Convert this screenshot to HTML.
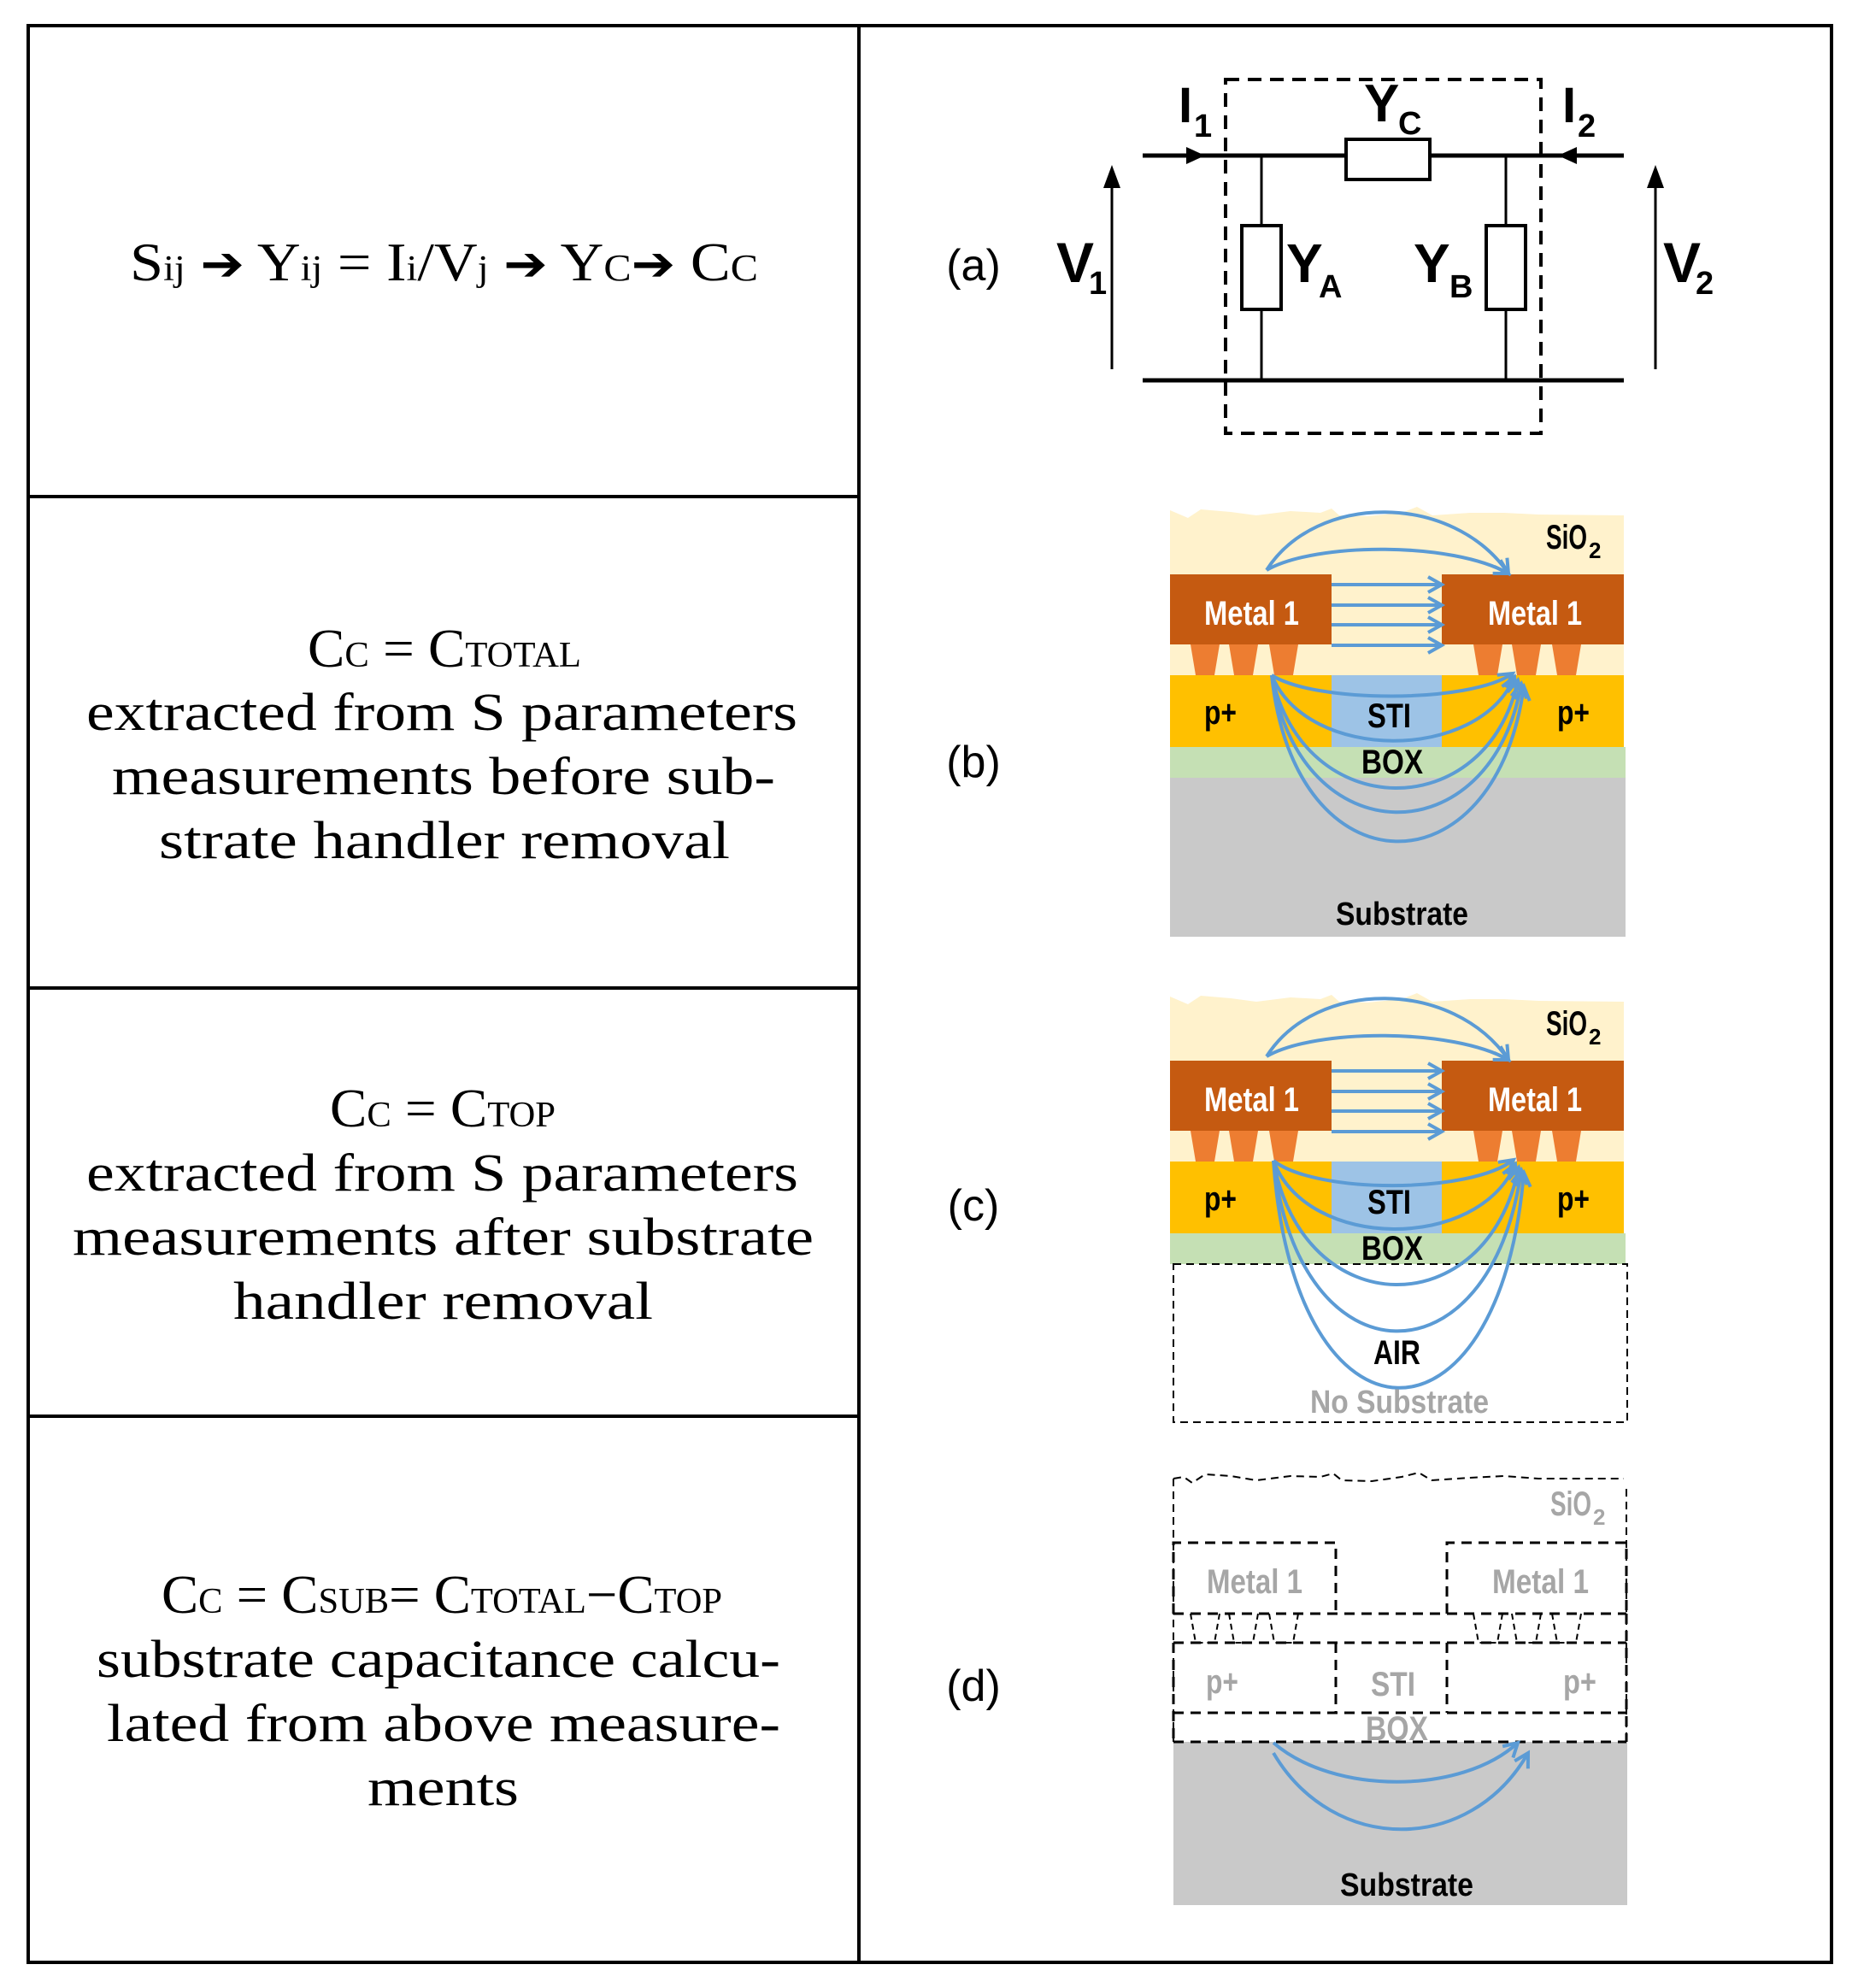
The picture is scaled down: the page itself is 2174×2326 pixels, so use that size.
<!DOCTYPE html>
<html><head><meta charset="utf-8"><style>
html,body{margin:0;padding:0;background:#fff;}
svg{display:block;}
.sf{font-family:"Liberation Serif",serif;fill:#000;}
.ss{font-family:"Liberation Sans",sans-serif;font-weight:bold;}
</style></head><body>
<svg width="2174" height="2326" viewBox="0 0 2174 2326" xmlns="http://www.w3.org/2000/svg">
<defs>
<marker id="bh" markerUnits="userSpaceOnUse" markerWidth="40" markerHeight="40" refX="0" refY="0" viewBox="-20 -20 40 40" orient="auto" overflow="visible">
<path d="M-16,-9 L0,0 L-16,9" fill="none" stroke="#5B9BD5" stroke-width="4"/>
</marker>
</defs>
<rect width="2174" height="2326" fill="#fff"/>
<!-- table -->
<rect x="33" y="30" width="2110" height="2266" fill="none" stroke="#000" stroke-width="4"/>
<line x1="1005" y1="30" x2="1005" y2="2296" stroke="#000" stroke-width="4"/>
<line x1="33" y1="581" x2="1005" y2="581" stroke="#000" stroke-width="4"/>
<line x1="33" y1="1156" x2="1005" y2="1156" stroke="#000" stroke-width="4"/>
<line x1="33" y1="1657" x2="1005" y2="1657" stroke="#000" stroke-width="4"/>

<!-- left texts -->
<text class="sf" x="152" y="328" font-size="64" textLength="735" lengthAdjust="spacingAndGlyphs">S<tspan font-size="42">ij</tspan> <tspan font-family="DejaVu Sans,sans-serif" font-weight="bold" font-size="56">➔</tspan> Y<tspan font-size="42">ij</tspan> = I<tspan font-size="42">i</tspan>/V<tspan font-size="42">j</tspan> <tspan font-family="DejaVu Sans,sans-serif" font-weight="bold" font-size="56">➔</tspan> Y<tspan font-size="44">C</tspan><tspan font-family="DejaVu Sans,sans-serif" font-weight="bold" font-size="56">➔</tspan> C<tspan font-size="44">C</tspan></text>

<text class="sf" x="360" y="780" font-size="64" textLength="320" lengthAdjust="spacingAndGlyphs">C<tspan font-size="42">C</tspan> = C<tspan font-size="42">TOTAL</tspan></text>
<text class="sf" x="101" y="854" font-size="62" textLength="832" lengthAdjust="spacingAndGlyphs">extracted from S parameters</text>
<text class="sf" x="131" y="929" font-size="62" textLength="776" lengthAdjust="spacingAndGlyphs">measurements before sub-</text>
<text class="sf" x="186" y="1004" font-size="62" textLength="668" lengthAdjust="spacingAndGlyphs">strate handler removal</text>

<text class="sf" x="386" y="1318" font-size="64" textLength="264" lengthAdjust="spacingAndGlyphs">C<tspan font-size="42">C</tspan> = C<tspan font-size="42">TOP</tspan></text>
<text class="sf" x="101" y="1393" font-size="62" textLength="833" lengthAdjust="spacingAndGlyphs">extracted from S parameters</text>
<text class="sf" x="85" y="1468" font-size="62" textLength="867" lengthAdjust="spacingAndGlyphs">measurements after substrate</text>
<text class="sf" x="273" y="1543" font-size="62" textLength="491" lengthAdjust="spacingAndGlyphs">handler removal</text>

<text class="sf" x="189" y="1887" font-size="64" textLength="656" lengthAdjust="spacingAndGlyphs">C<tspan font-size="42">C</tspan> = C<tspan font-size="42">SUB</tspan>= C<tspan font-size="42">TOTAL</tspan>−C<tspan font-size="42">TOP</tspan></text>
<text class="sf" x="113" y="1962" font-size="62" textLength="800" lengthAdjust="spacingAndGlyphs">substrate capacitance calcu-</text>
<text class="sf" x="125" y="2037" font-size="62" textLength="788" lengthAdjust="spacingAndGlyphs">lated from above measure-</text>
<text class="sf" x="430" y="2112" font-size="62" textLength="177" lengthAdjust="spacingAndGlyphs">ments</text>

<!-- panel labels -->
<g font-family="Liberation Sans,sans-serif" font-size="52" text-anchor="middle">
<text x="1139" y="328">(a)</text>
<text x="1139" y="909">(b)</text>
<text x="1139" y="1428">(c)</text>
<text x="1139" y="1990">(d)</text>
</g>

<!-- circuit (a) -->
<g stroke="#000" fill="none">
<line x1="1337" y1="182" x2="1575" y2="182" stroke-width="5"/>
<line x1="1673" y1="182" x2="1900" y2="182" stroke-width="5"/>
<line x1="1337" y1="445" x2="1900" y2="445" stroke-width="5"/>
<rect x="1575" y="163" width="98" height="47" stroke-width="4" fill="#fff"/>
<line x1="1476" y1="182" x2="1476" y2="264" stroke-width="3"/>
<line x1="1476" y1="362" x2="1476" y2="445" stroke-width="3"/>
<rect x="1453" y="264" width="46" height="98" stroke-width="4" fill="#fff"/>
<line x1="1762" y1="182" x2="1762" y2="264" stroke-width="3"/>
<line x1="1762" y1="362" x2="1762" y2="445" stroke-width="3"/>
<rect x="1739" y="264" width="46" height="98" stroke-width="4" fill="#fff"/>
<rect x="1434" y="93" width="369" height="414" stroke-width="4" stroke-dasharray="16,10"/>
<line x1="1301" y1="432" x2="1301" y2="215" stroke-width="3"/>
<line x1="1937" y1="432" x2="1937" y2="215" stroke-width="3"/>
</g>
<polygon points="1301,193 1291,220 1311,220" fill="#000"/>
<polygon points="1937,193 1927,220 1947,220" fill="#000"/>
<polygon points="1410,182 1388,172 1388,192" fill="#000"/>
<polygon points="1823,182 1845,172 1845,192" fill="#000"/>
<g class="ss" fill="#000">
<text x="1379" y="143" font-size="58">I</text><text x="1397" y="160" font-size="38">1</text>
<text x="1596" y="142" font-size="62">Y</text><text x="1636" y="157" font-size="38">C</text>
<text x="1828" y="143" font-size="58">I</text><text x="1846" y="160" font-size="38">2</text>
<text x="1236" y="330" font-size="66">V</text><text x="1274" y="344" font-size="38">1</text>
<text x="1505" y="330" font-size="64">Y</text><text x="1543" y="348" font-size="38">A</text>
<text x="1654" y="330" font-size="64">Y</text><text x="1696" y="348" font-size="38">B</text>
<text x="1946" y="330" font-size="66">V</text><text x="1984" y="344" font-size="38">2</text>
</g>

<!-- panel (b) -->
<g id="pb">
<path d="M1369,597 L1390,606 L1405,596 L1440,599 L1470,603 L1510,598 L1545,600 L1558,595 L1567,603 L1600,604 L1640,600 L1658,593 L1676,603 L1720,600 L1760,600 L1800,602 L1900,603 L1900,791 L1369,791 Z" fill="#FFF2CC"/>
<rect x="1369" y="672" width="189" height="82" fill="#C55A11"/>
<rect x="1687" y="672" width="213" height="82" fill="#C55A11"/>
<g fill="#ED7D31">
<polygon points="1393,754 1427,754 1421,790 1399,790"/>
<polygon points="1438,754 1472,754 1466,790 1444,790"/>
<polygon points="1485,754 1519,754 1513,790 1491,790"/>
<polygon points="1724,754 1758,754 1752,790 1730,790"/>
<polygon points="1769,754 1803,754 1797,790 1775,790"/>
<polygon points="1816,754 1850,754 1844,790 1822,790"/>
</g>
<rect x="1369" y="790" width="531" height="84" fill="#FFC000"/>
<rect x="1558" y="790" width="129" height="84" fill="#9DC3E6"/>
<rect x="1369" y="874" width="533" height="36" fill="#C5E0B4"/>
</g>
<rect x="1369" y="910" width="533" height="186" fill="#C9C9C9"/>
<g class="ss">
<text x="1409" y="731" font-size="40" fill="#fff" textLength="111" lengthAdjust="spacingAndGlyphs">Metal 1</text>
<text x="1741" y="731" font-size="40" fill="#fff" textLength="110" lengthAdjust="spacingAndGlyphs">Metal 1</text>
<text x="1809" y="642" font-size="40" textLength="48" lengthAdjust="spacingAndGlyphs">SiO</text><text x="1859" y="653" font-size="26">2</text>
<text x="1409" y="847" font-size="40" textLength="38" lengthAdjust="spacingAndGlyphs">p+</text>
<text x="1822" y="847" font-size="40" textLength="38" lengthAdjust="spacingAndGlyphs">p+</text>
<text x="1600" y="851" font-size="40" textLength="51" lengthAdjust="spacingAndGlyphs">STI</text>
<text x="1593" y="905" font-size="40" textLength="72" lengthAdjust="spacingAndGlyphs">BOX</text>
<text x="1563" y="1082" font-size="38" textLength="155" lengthAdjust="spacingAndGlyphs">Substrate</text>
</g>
<g fill="none" stroke="#5B9BD5" stroke-width="4" marker-end="url(#bh)">
<path d="M1482,667 C1540,576 1700,576 1765,671"/>
<path d="M1482,667 C1540,634 1700,634 1765,671"/>
<line x1="1558" y1="684" x2="1687" y2="684"/>
<line x1="1558" y1="708" x2="1687" y2="708"/>
<line x1="1558" y1="731" x2="1687" y2="731"/>
<line x1="1558" y1="755" x2="1687" y2="755"/>
<path d="M1488,790 C1540,823 1720,823 1770,788"/>
<path d="M1488,790 C1530,892 1730,892 1772,792"/>
<path d="M1488,790 C1525,965 1740,965 1776,796"/>
<path d="M1488,790 C1520,1002 1745,1002 1780,800"/>
<path d="M1488,790 C1515,1047 1750,1047 1783,803"/>
</g>

<!-- panel (c) -->
<g transform="translate(0,569)">
<path d="M1369,597 L1390,606 L1405,596 L1440,599 L1470,603 L1510,598 L1545,600 L1558,595 L1567,603 L1600,604 L1640,600 L1658,593 L1676,603 L1720,600 L1760,600 L1800,602 L1900,603 L1900,791 L1369,791 Z" fill="#FFF2CC"/>
<rect x="1369" y="672" width="189" height="82" fill="#C55A11"/>
<rect x="1687" y="672" width="213" height="82" fill="#C55A11"/>
<g fill="#ED7D31">
<polygon points="1393,754 1427,754 1421,790 1399,790"/>
<polygon points="1438,754 1472,754 1466,790 1444,790"/>
<polygon points="1485,754 1519,754 1513,790 1491,790"/>
<polygon points="1724,754 1758,754 1752,790 1730,790"/>
<polygon points="1769,754 1803,754 1797,790 1775,790"/>
<polygon points="1816,754 1850,754 1844,790 1822,790"/>
</g>
<rect x="1369" y="790" width="531" height="84" fill="#FFC000"/>
<rect x="1558" y="790" width="129" height="84" fill="#9DC3E6"/>
<rect x="1369" y="874" width="533" height="36" fill="#C5E0B4"/>
<g class="ss">
<text x="1409" y="731" font-size="40" fill="#fff" textLength="111" lengthAdjust="spacingAndGlyphs">Metal 1</text>
<text x="1741" y="731" font-size="40" fill="#fff" textLength="110" lengthAdjust="spacingAndGlyphs">Metal 1</text>
<text x="1809" y="642" font-size="40" textLength="48" lengthAdjust="spacingAndGlyphs">SiO</text><text x="1859" y="653" font-size="26">2</text>
<text x="1409" y="847" font-size="40" textLength="38" lengthAdjust="spacingAndGlyphs">p+</text>
<text x="1822" y="847" font-size="40" textLength="38" lengthAdjust="spacingAndGlyphs">p+</text>
<text x="1600" y="851" font-size="40" textLength="51" lengthAdjust="spacingAndGlyphs">STI</text>
<text x="1593" y="905" font-size="40" textLength="72" lengthAdjust="spacingAndGlyphs">BOX</text>
</g>
<g fill="none" stroke="#5B9BD5" stroke-width="4" marker-end="url(#bh)">
<path d="M1482,667 C1540,576 1700,576 1765,671"/>
<path d="M1482,667 C1540,634 1700,634 1765,671"/>
<line x1="1558" y1="684" x2="1687" y2="684"/>
<line x1="1558" y1="708" x2="1687" y2="708"/>
<line x1="1558" y1="731" x2="1687" y2="731"/>
<line x1="1558" y1="755" x2="1687" y2="755"/>
</g>
</g>
<rect x="1373" y="1479" width="531" height="185" fill="none" stroke="#000" stroke-width="2" stroke-dasharray="9,6"/>
<g fill="none" stroke="#5B9BD5" stroke-width="4" marker-end="url(#bh)">
<path d="M1490,1358 C1540,1397 1720,1397 1771,1357"/>
<path d="M1490,1358 C1530,1464 1730,1464 1773,1362"/>
<path d="M1490,1358 C1525,1550 1740,1550 1777,1366"/>
<path d="M1490,1358 C1520,1622 1745,1622 1780,1369"/>
<path d="M1490,1358 C1515,1710 1755,1710 1783,1372"/>
</g>
<g class="ss">
<text x="1607" y="1596" font-size="40" textLength="55" lengthAdjust="spacingAndGlyphs">AIR</text>
<text x="1533" y="1653" font-size="38" fill="#A6A6A6" textLength="209" lengthAdjust="spacingAndGlyphs">No Substrate</text>
</g>

<!-- panel (d) -->
<rect x="1373" y="2038" width="531" height="191" fill="#C9C9C9"/>
<g fill="none" stroke="#000">
<path d="M1373,1730 L1385,1728 L1395,1735 L1410,1725 L1440,1727 L1470,1732 L1510,1727 L1545,1728 L1560,1724 L1570,1732 L1605,1733 L1640,1728 L1660,1723 L1675,1732 L1720,1729 L1760,1727 L1800,1730 L1900,1730" stroke-width="2" stroke-dasharray="9,6"/>
<line x1="1373" y1="1730" x2="1373" y2="2038" stroke-width="2" stroke-dasharray="9,6"/>
<line x1="1903" y1="1742" x2="1903" y2="2038" stroke-width="2" stroke-dasharray="9,6"/>
<g stroke-width="3" stroke-dasharray="12,8">
<path d="M1373,1888 L1373,1805 L1563,1805 L1563,1888"/>
<path d="M1693,1888 L1693,1805 L1903,1805 L1903,1888"/>
<line x1="1373" y1="1888" x2="1903" y2="1888"/>
<line x1="1373" y1="1922" x2="1903" y2="1922"/>
<line x1="1373" y1="2004" x2="1903" y2="2004"/>
<line x1="1373" y1="2038" x2="1903" y2="2038"/>
<line x1="1373" y1="1922" x2="1373" y2="2038"/>
<line x1="1903" y1="1888" x2="1903" y2="2038"/>
<line x1="1563" y1="1922" x2="1563" y2="2004"/>
<line x1="1693" y1="1922" x2="1693" y2="2004"/>
</g>
<g stroke-width="2" stroke-dasharray="7,5">
<path d="M1393,1888 L1399,1922 L1421,1922 L1427,1888"/>
<path d="M1438,1888 L1444,1922 L1466,1922 L1472,1888"/>
<path d="M1485,1888 L1491,1922 L1513,1922 L1519,1888"/>
<path d="M1724,1888 L1730,1922 L1752,1922 L1758,1888"/>
<path d="M1769,1888 L1775,1922 L1797,1922 L1803,1888"/>
<path d="M1816,1888 L1822,1922 L1844,1922 L1850,1888"/>
</g>
</g>
<g class="ss" fill="#A6A6A6">
<text x="1814" y="1773" font-size="40" textLength="48" lengthAdjust="spacingAndGlyphs">SiO</text><text x="1864" y="1784" font-size="26">2</text>
<text x="1412" y="1864" font-size="40" textLength="112" lengthAdjust="spacingAndGlyphs">Metal 1</text>
<text x="1746" y="1864" font-size="40" textLength="113" lengthAdjust="spacingAndGlyphs">Metal 1</text>
<text x="1411" y="1981" font-size="40" textLength="38" lengthAdjust="spacingAndGlyphs">p+</text>
<text x="1829" y="1981" font-size="40" textLength="39" lengthAdjust="spacingAndGlyphs">p+</text>
<text x="1604" y="1984" font-size="40" textLength="52" lengthAdjust="spacingAndGlyphs">STI</text>
<text x="1598" y="2036" font-size="40" textLength="73" lengthAdjust="spacingAndGlyphs">BOX</text>
</g>
<text class="ss" x="1568" y="2218" font-size="38" textLength="156" lengthAdjust="spacingAndGlyphs">Substrate</text>
<g fill="none" stroke="#5B9BD5" stroke-width="4" marker-end="url(#bh)">
<path d="M1490,2039 C1560,2100 1710,2100 1776,2039"/>
<path d="M1490,2051 C1560,2170 1720,2170 1788,2051"/>
</g>
</svg>
</body></html>
